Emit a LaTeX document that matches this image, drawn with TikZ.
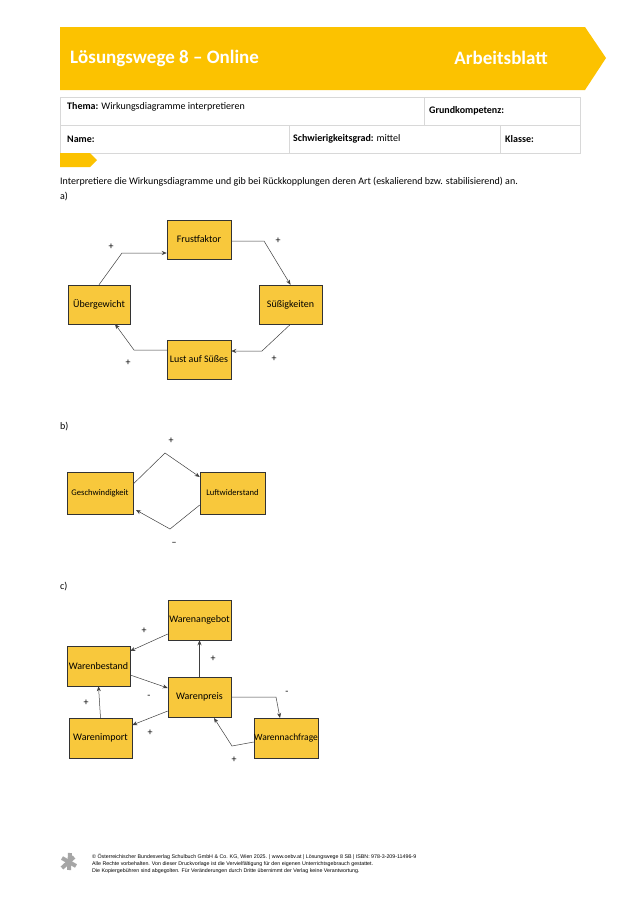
\documentclass[tikz,border=0pt]{standalone}
\usepackage{fontspec}
\setmainfont{Carlito}
\usetikzlibrary{arrows.meta}
\definecolor{hdr}{HTML}{FCC200}
\definecolor{boxf}{HTML}{F8C83C}
\definecolor{grid}{HTML}{D8D8D8}
\begin{document}
\begin{tikzpicture}[x=1pt,y=-1pt,
  bx/.style={draw=black!80,fill=boxf,line width=0.5pt,inner sep=0pt,font=\fontsize{10}{12}\selectfont},
  con/.style={draw=black!75,line width=0.5pt,-{Stealth[length=5pt,width=4pt]}},
  sg/.style={font=\fontsize{10}{11}\selectfont},
  txt/.style={anchor=west,inner sep=0pt,font=\fontsize{10}{12}\selectfont}]
\useasboundingbox (0,0) rectangle (640,905);
\fill[white] (0,0) rectangle (640,905);
% header
\fill[hdr] (60,27) -- (585,27) -- (606,58) -- (585,90) -- (60,90) -- cycle;
\node[anchor=west,inner sep=0pt,text=white,font=\bfseries\fontsize{19}{22}\selectfont] (title) at (70,58) {Lösungswege 8 – Online};
\node[anchor=east,inner sep=0pt,text=white,font=\bfseries\fontsize{19}{22}\selectfont] (ab) at (548,58) {Arbeitsblatt};
% table
\draw[grid,line width=0.8pt] (60,97) rectangle (580,153);
\draw[grid,line width=0.8pt] (60,125) -- (580,125) (424,97) -- (424,125) (289,125) -- (289,153) (500,125) -- (500,153);
\node[txt] (thema) at (67,107) {\textbf{Thema:} Wirkungsdiagramme interpretieren};
\node[txt] (gk) at (429,111) {\textbf{Grundkompetenz:}};
\node[txt] (name) at (67,139) {\textbf{Name:}};
\node[txt] (sg) at (293,139) {\textbf{Schwierigkeitsgrad:} mittel};
\node[txt] (kl) at (505,139) {\textbf{Klasse:}};
\fill[hdr] (60,153) -- (90,153) -- (97,160) -- (90,167) -- (60,167) -- cycle;
\node[txt] (intro) at (60,182) {Interpretiere die Wirkungsdiagramme und gib bei Rückkopplungen deren Art (eskalierend bzw. stabilisierend) an.};
\node[txt] (la) at (60,197) {a)};
\node[txt] (lb) at (60,427) {b)};
\node[txt] (lc) at (60,587) {c)};
% a
\node[bx,minimum width=64pt,minimum height=39pt] (fr) at (199,239.5) {Frustfaktor};
\node[bx,minimum width=62pt,minimum height=39pt] (ue) at (99,304.5) {Übergewicht};
\node[bx,minimum width=63pt,minimum height=39pt] (su) at (290.5,304.5) {Süßigkeiten};
\node[bx,minimum width=64pt,minimum height=39pt] (lu) at (199,359.5) {Lust auf Süßes};
\draw[con] (fr.east |- 0,241) -- (264,241) -- (su.north);
\draw[con] (su.south) -- (262,351) -- (lu.east |- 0,351);
\draw[con] (lu.west |- 0,350) -- (134,350) -- (115,324);
\draw[con] (ue.north) -- (122,253) -- (fr.west |- 0,253);
\node[sg] (p1) at (111,247) {+};
\node[sg] (p2) at (278,241) {+};
\node[sg] (p3) at (274,359) {+};
\node[sg] (p4) at (128,363) {+};
% b
\node[bx,minimum width=66pt,minimum height=42pt,font=\fontsize{8.6}{10}\selectfont] (ge) at (100,493) {Geschwindigkeit};
\node[bx,minimum width=65pt,minimum height=42pt,font=\fontsize{8.6}{10}\selectfont] (lw) at (232.5,493) {Luftwiderstand};
\draw[con] (ge.east |- 0,484) -- (165,453) -- (lw.west |- 0,477);
\draw[con] (lw.west |- 0,505) -- (170,529) -- (136,510);
\node[sg] (p5) at (171,441) {+};
\node[sg] (m1) at (174,544) {–};
% c
\node[bx,minimum width=63pt,minimum height=40pt] (wa) at (199.5,620) {Warenangebot};
\node[bx,minimum width=63pt,minimum height=40pt] (wb) at (98.5,666) {Warenbestand};
\node[bx,minimum width=63pt,minimum height=40pt] (wp) at (199.5,697) {Warenpreis};
\node[bx,minimum width=63pt,minimum height=40pt] (wi) at (100.5,738) {Warenimport};
\node[bx,minimum width=64pt,minimum height=40pt,font=\fontsize{9.5}{11}\selectfont] (wn) at (286,738) {Warennachfrage};
\draw[con] (wa.west |- 0,634) -- (wb.east |- 0,651);
\draw[con] (wp.north) -- (wa.south);
\draw[con] (wb.east |- 0,675) -- (wp.west |- 0,688);
\draw[con] (wp.west |- 0,711) -- (wi.east |- 0,725);
\draw[con] (wi.north) -- (wb.south);
\draw[con] (wp.east |- 0,697) -- (276,697) -- (280,718);
\draw[con] (wn.west |- 0,742) -- (232,746) -- (214,718);
\node[sg] (p6) at (144,631) {+};
\node[sg] (p7) at (213,659) {+};
\node[sg] (m2) at (149,697) {-};
\node[sg] (p8) at (86,703) {+};
\node[sg] (p9) at (150,733) {+};
\node[sg] (m3) at (287,693) {-};
\node[sg] (p10) at (234,760) {+};
% footer
\begin{scope}[gray!70,line width=4pt]
\draw (62,858) -- (76,866);
\draw (70,853) -- (69,870);
\draw (62,868) -- (74,857);
\end{scope}
\node[anchor=west,inner sep=0pt,font=\fontsize{5.3}{7.3}\selectfont,align=left] (ft) at (92,864) {\fontspec{Liberation Sans}© Österreichischer Bundesverlag Schulbuch GmbH \& Co. KG, Wien 2025. | www.oebv.at | Lösungswege 8 SB | ISBN: 978-3-209-11496-9\\\fontspec{Liberation Sans}Alle Rechte vorbehalten. Von dieser Druckvorlage ist die Vervielfältigung für den eigenen Unterrichtsgebrauch gestattet.\\\fontspec{Liberation Sans}Die Kopiergebühren sind abgegolten. Für Veränderungen durch Dritte übernimmt der Verlag keine Verantwortung.};
\end{tikzpicture}
\end{document}
